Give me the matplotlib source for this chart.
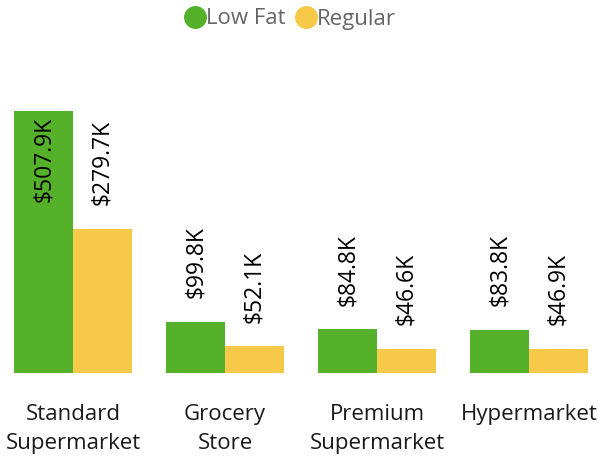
import matplotlib
matplotlib.use("Agg")
import matplotlib.pyplot as plt
from matplotlib.lines import Line2D
import numpy as np

plt.rcParams['font.family'] = ['Open Sans', 'DejaVu Sans']

categories = ["Standard\nSupermarket", "Grocery\nStore", "Premium\nSupermarket", "Hypermarket"]
low_fat = [507.9, 99.8, 84.8, 83.8]
regular = [279.7, 52.1, 46.6, 46.9]
series_names = ["Low Fat", "Regular"]
colors = ["#55B12A", "#F7C948"]

fig = plt.figure(figsize=(6.04, 4.59), dpi=100)
ax = fig.add_axes([0, (459 - 373) / 459, 1, (373 - 60) / 459])

x = np.arange(len(categories))
w = 0.385
b1 = ax.bar(x - w / 2, low_fat, w, color=colors[0])
b2 = ax.bar(x + w / 2, regular, w, color=colors[1])

ymax = 507.9 * (373 - 60) / 262
ax.set_ylim(0, ymax)
ax.set_xlim(-73 / 152, (604 - 73) / 152)

for bars, vals in ((b1, low_fat), (b2, regular)):
    for bar, v in zip(bars, vals):
        cx = bar.get_x() + bar.get_width() / 2
        label = f"${v:.1f}K"
        if v > 400:
            ax.annotate(label, (cx, v), xytext=(0, -4), textcoords="offset points",
                        rotation=90, ha="center", va="top", fontsize=16.5, color="black")
        else:
            ax.annotate(label, (cx, v), xytext=(0, 17), textcoords="offset points",
                        rotation=90, ha="center", va="bottom", fontsize=16.5, color="black")

ax.set_xticks(x)
ax.set_xticklabels(categories, fontsize=16, color="#1a1a1a", linespacing=1.5)
ax.tick_params(axis="x", length=0, pad=22)
ax.set_yticks([])
for s in ax.spines.values():
    s.set_visible(False)

handles = [Line2D([], [], marker="o", linestyle="none", markersize=15.5,
                  markerfacecolor=c, markeredgecolor=c) for c in colors]
fig.legend(handles, series_names, loc="center", bbox_to_anchor=(289 / 604, 1 - 19 / 459),
           ncol=2, frameon=False, fontsize=16, labelcolor="#666666",
           handletextpad=-0.1, columnspacing=0.3, handlelength=1.2)

fig.savefig("out.png", dpi=100)
